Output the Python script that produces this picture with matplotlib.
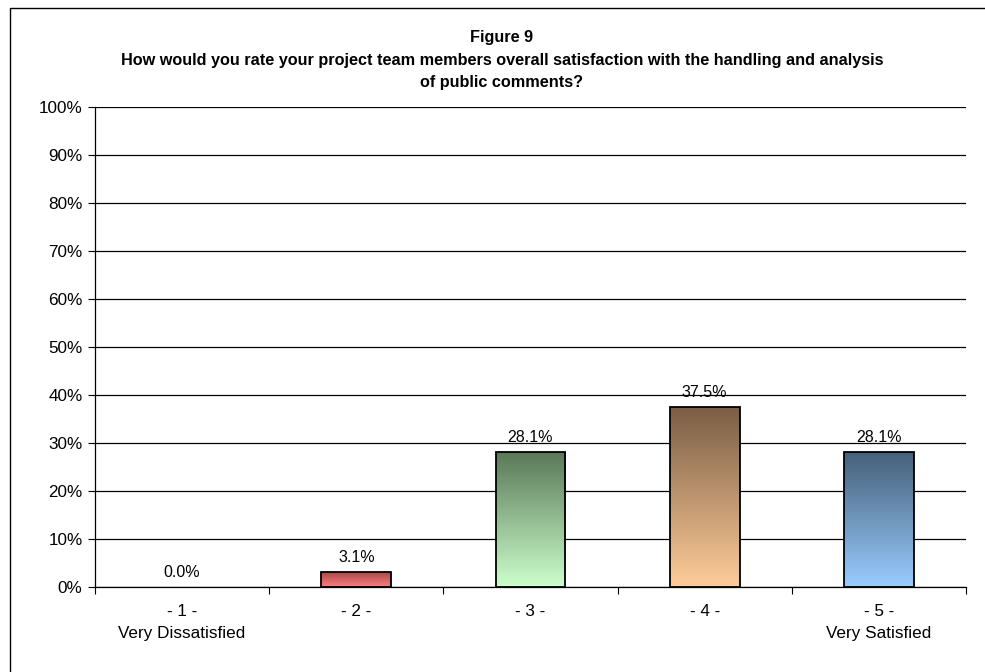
import matplotlib
matplotlib.use("Agg")
import matplotlib.pyplot as plt
import numpy as np
from matplotlib.colors import LinearSegmentedColormap
from matplotlib.patches import Rectangle

categories = ["- 1 -\nVery Dissatisfied", "- 2 -", "- 3 -", "- 4 -", "- 5 -\nVery Satisfied"]
values = [0.0, 3.1, 28.1, 37.5, 28.1]
value_labels = ["0.0%", "3.1%", "28.1%", "37.5%", "28.1%"]
y_ticks = [0, 10, 20, 30, 40, 50, 60, 70, 80, 90, 100]
top_colors = ["#7a4646", "#a84848", "#5a7858", "#7a5e45", "#46607a"]
bottom_colors = ["#ff9999", "#ff8080", "#ccffcc", "#ffcc99", "#99ccff"]
title = "Figure 9\nHow would you rate your project team members overall satisfaction with the handling and analysis\nof public comments?"

plt.rcParams['font.family'] = ['Liberation Sans', 'DejaVu Sans']

W, H = 985, 672
fig = plt.figure(figsize=(W / 100, H / 100), dpi=100)
fig.patch.set_facecolor("white")

# outer border
fig.add_artist(Rectangle((10 / W, -0.1), 1.2, 1 - 7.5 / H + 0.1, transform=fig.transFigure,
                         fill=False, edgecolor="black", linewidth=1.0))

ax = fig.add_axes([95 / W, 1 - 587 / H, (966 - 95) / W, (587 - 107) / H])
x = np.arange(len(values))
bars = ax.bar(x, values, width=0.4, color="none", edgecolor="black", linewidth=1.3, zorder=3)
for b in bars:
    if b.get_height() <= 0:
        b.set_visible(False)

ax.set_xlim(-0.5, len(values) - 0.5)
ax.set_ylim(0, 100)

grad = np.linspace(0, 1, 256).reshape(-1, 1)
for i, b in enumerate(bars):
    if b.get_height() <= 0:
        continue
    cmap = LinearSegmentedColormap.from_list("g%d" % i, [bottom_colors[i], top_colors[i]])
    x0, w, h = b.get_x(), b.get_width(), b.get_height()
    ax.imshow(grad, cmap=cmap, aspect="auto", origin="lower",
              extent=(x0, x0 + w, 0, h), zorder=2, interpolation="bilinear")
    ax.set_xlim(-0.5, len(values) - 0.5)
    ax.set_ylim(0, 100)

for i, v in enumerate(values):
    ax.annotate(value_labels[i], (x[i], v), xytext=(0, 5), textcoords="offset points",
                ha="center", va="bottom", fontsize=11.5, color="black")

ax.set_yticks(y_ticks)
ax.set_yticklabels([f"{t}%" for t in y_ticks], fontsize=12.3)
ax.yaxis.grid(True, color="black", linewidth=0.9, zorder=0)
ax.set_axisbelow(True)

ax.set_xticks(np.arange(-0.5, len(values), 1.0))
ax.set_xticklabels([])
ax.set_xticks(x, minor=True)
ax.set_xticklabels(categories, minor=True, fontsize=12.3, linespacing=1.65)
ax.tick_params(axis="x", which="minor", length=0, pad=12)
ax.tick_params(axis="x", which="major", length=5, direction="out", color="black")
ax.tick_params(axis="y", length=5, direction="out", color="black", pad=4)

for s in ["top", "right"]:
    ax.spines[s].set_visible(False)
for s in ["left", "bottom"]:
    ax.spines[s].set_color("black")
    ax.spines[s].set_linewidth(0.9)

fig.text(502 / W, 1 - 60 / H, title, ha="center", va="center", fontsize=11.7,
         fontweight="bold", linespacing=1.6,
         family=['Liberation Sans Narrow', 'Liberation Sans', 'DejaVu Sans'])

fig.savefig("out.png", dpi=100, facecolor="white")
